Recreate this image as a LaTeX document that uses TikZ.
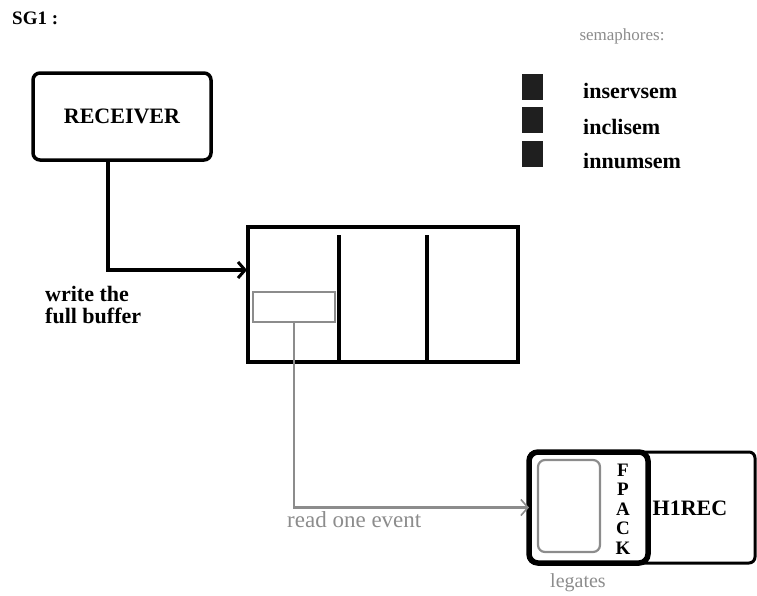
\documentclass[tikz,border=0pt]{standalone}
\usepackage{fontspec}
\setmainfont{Liberation Serif}
\usetikzlibrary{arrows.meta}
\definecolor{dgray}{gray}{0.55}
\begin{document}
\begin{tikzpicture}[x=1pt,y=-1pt,
  box/.style={draw,anchor=north west,inner sep=0pt,outer sep=0pt},
  lbl/.style={font=\fontsize{22}{24}\selectfont\bfseries,inner sep=0pt},
  glbl/.style={font=\fontsize{17}{19}\selectfont,text=dgray,inner sep=0pt},
  sem/.style={box,draw=none,fill=black!88,minimum width=21pt,minimum height=26pt},
  blackline/.style={line width=4pt,line join=miter},
  grayline/.style={draw=dgray,line width=2.2pt},
  barb/.style={-{Straight Barb[length=7pt,width=16pt,line width=3pt]}},
  gbarb/.style={-{Straight Barb[length=7pt,width=16pt,line width=1.6pt]}}
]
\useasboundingbox (0,0) rectangle (757,595);

% title
\node[lbl,anchor=west,font=\fontsize{19}{21}\selectfont\bfseries] (title) at (12,18) {SG1 :};
\node[glbl] (semt) at (622,36) {semaphores:};

% legend
\node[sem] (s1) at (522,74) {};
\node[sem] (s2) at (522,107) {};
\node[sem] (s3) at (522,141) {};
\node[lbl,anchor=west] (t1) at (583,91) {inservsem};
\node[lbl,anchor=west] (t2) at (583,127) {inclisem};
\node[lbl,anchor=west] (t3) at (583,161) {innumsem};

% receiver
\node[box,line width=3.5pt,rounded corners=7pt,minimum width=178pt,minimum height=87pt] (rec) at (33,73) {};
\node[lbl] (rect) at (rec.center) {RECEIVER};

% buffer
\node[box,line width=4pt,minimum width=270pt,minimum height=135pt] (buf) at (248,227) {};
\draw[line width=4pt] (339,235) -- (339,362);
\draw[line width=4pt] (427,235) -- (427,362);
\node[box,draw=dgray,line width=2.2pt,minimum width=82pt,minimum height=30pt] (slot) at (253,292) {};

\coordinate (bend) at (108,270);
\coordinate (bufin) at (247,270);
\draw[blackline,barb] (bend |- rec.south) -- (bend) -- (bufin);
\node[lbl,anchor=north west,align=left,font=\fontsize{22}{22}\selectfont\bfseries] (wr) at (45,286) {write the\\full buffer};

% H1REC
\node[box,line width=3pt,rounded corners=6pt,minimum width=226pt,minimum height=111pt] (h1) at (529,452) {};
\node[box,line width=5.5pt,rounded corners=9pt,minimum width=119pt,minimum height=111pt] (fp) at (529,452) {};
\node[box,draw=dgray,line width=2.2pt,rounded corners=7pt,minimum width=62pt,minimum height=92pt] (inb) at (538,460) {};
\node[lbl,align=center,font=\fontsize{19}{19.5}\selectfont\bfseries] (fpack) at (623,509) {F\\P\\A\\C\\K};
\node[lbl] (h1t) at (690,508) {H1REC};

% read arrow
\draw[grayline,gbarb] (slot.south) |- (fp.west);
\node[glbl,anchor=north west,font=\fontsize{23}{24}\selectfont] (rd) at (287,511) {read one event};
\node[glbl,anchor=north west,font=\fontsize{20}{21}\selectfont] (leg) at (550,573) {legates};
\end{tikzpicture}
\end{document}
